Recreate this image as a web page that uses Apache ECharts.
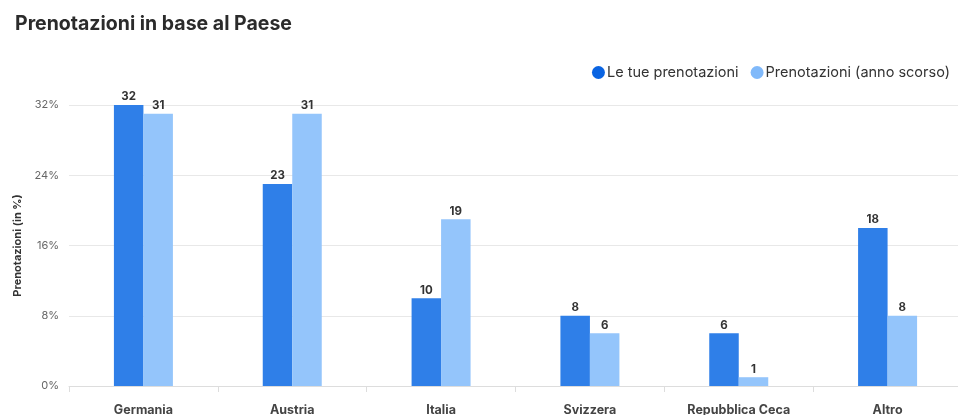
<!DOCTYPE html>
<html><head><meta charset="utf-8">
<script src="https://cdn.jsdelivr.net/npm/echarts@6/dist/echarts.min.js"></script>
<style>html,body{margin:0;padding:0;background:#fff}#c{width:958px;height:415px}</style>
</head><body><div id="c"></div>
<script>
const categories = ['Germania','Austria','Italia','Svizzera','Repubblica Ceca','Altro'];
const current = [32,23,10,8,6,18];
const lastYear = [31,31,19,6,1,8];
const yTicks = [0,8,16,24,32];
const seriesNames = ['Le tue prenotazioni','Prenotazioni (anno scorso)'];

const chart = echarts.init(document.getElementById('c'), null, {renderer:'canvas'});
const font = 'Inter, "Noto Sans", sans-serif';
const lbl = {show:true, position:'top', distance:2, color:'#333', fontWeight:'bold', fontSize:11.5, fontFamily:font};
chart.setOption({
  animation:false,
  title:{text:'Prenotazioni in base al Paese', left:10, top:9,
    textStyle:{fontSize:19.5, fontWeight:'bold', color:'#2b2b2b', fontFamily:font}},
  legend:{right:3, top:60, icon:'circle', itemWidth:13, itemHeight:13, itemGap:12,
    textStyle:{fontSize:14.5, color:'#333', fontFamily:font, padding:[0,0,0,-3]},
    data:[{name:seriesNames[0], itemStyle:{color:'#0a64e2'}},{name:seriesNames[1], itemStyle:{color:'#80b9fa'}}]},
  grid:{left:69, right:-4, top:105, bottom:29, containLabel:false, outerBoundsMode:'none'},
  xAxis:{type:'category', data:categories,
    axisLine:{lineStyle:{color:'#ddd'}}, axisTick:{show:true, lineStyle:{color:'#ddd'}, length:6},
    axisLabel:{color:'#444', fontWeight:'bold', fontSize:12.5, fontFamily:font, margin:18}},
  yAxis:{type:'value', min:yTicks[0], max:yTicks[yTicks.length-1], interval:8,
    name:'Prenotazioni (in %)', nameLocation:'middle', nameGap:42,
    nameTextStyle:{fontSize:11, fontWeight:'bold', color:'#333', fontFamily:font},
    axisLine:{show:false}, axisTick:{show:false},
    axisLabel:{formatter:'{value}%', color:'#666', fontSize:11, fontFamily:font, margin:10},
    splitLine:{lineStyle:{color:'#e8e8e8'}}},
  series:[
    {name:seriesNames[0], type:'bar', data:current, barWidth:29.5, barGap:'0%',
      itemStyle:{color:'#2f7fe8'}, label:lbl},
    {name:seriesNames[1], type:'bar', data:lastYear, barWidth:29.5,
      itemStyle:{color:'#94c5fb'}, label:lbl}
  ]
});
</script></body></html>
